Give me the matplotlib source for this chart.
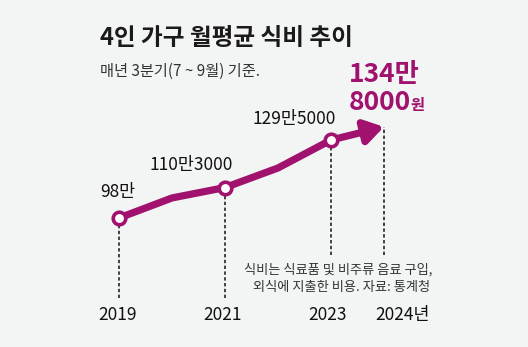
import numpy as np
import matplotlib.pyplot as plt

plt.rcParams['font.family'] = ['Noto Sans CJK KR', 'DejaVu Sans']

# 4인 가구 월평균 식비 (단위: 만원), 매년 3분기
years = [2019, 2020, 2021, 2022, 2023, 2024]
spend = [98.0, 106.1, 110.3, 118.2, 129.5, 134.8]
marked_years = [2019, 2021, 2023]
marked_spend = [98.0, 110.3, 129.5]
year_labels = ['2019', '2021', '2023', '2024년']
value_labels = ['98만', '110만3000', '129만5000']

W, H = 528, 347
BG = '#f3f4f4'
MAG = '#a0126e'

fig = plt.figure(figsize=(W / 100, H / 100), dpi=100, facecolor=BG)
ax = fig.add_axes([0, 0, 1, 1])
ax.set_facecolor(BG)
# x: 53px per year, 2019 at px 119 ; y: ~2.476px per 만원, 98만 at px 218 from top
ax.set_xlim(2019 - 119 / 53, 2019 + (W - 119) / 53)
ax.set_ylim(98 - (H - 218) / 2.476, 98 + 218 / 2.476)
ax.axis('off')


def px(x, y):
    return x / W, 1 - y / H


# 점선 (연도 기준선)
ends = {2019: 65.7, 2021: 65.7, 2023: 83.1, 2024: 83.1}
for yr, v in zip(years, spend):
    if yr in ends:
        ax.plot([yr, yr], [ends[yr], v], color='#111111', lw=1.1,
                ls=(0, (2.2, 1.6)), zorder=1)

# 추이 선 + 화살표
ax.plot(years[:-1], spend[:-1], color=MAG, lw=5.2, solid_capstyle='butt',
        solid_joinstyle='miter', zorder=2)
ax.annotate('', xy=(years[-1], spend[-1]), xytext=(years[-2], spend[-2]),
            arrowprops=dict(arrowstyle='-|>,head_length=1.1,head_width=0.7',
                            color=MAG, lw=5.2, shrinkA=0, shrinkB=0),
            zorder=2)
ax.plot(marked_years, marked_spend, 'o', ms=9, mfc='white', mec=MAG,
        mew=2.6, zorder=3)

# 제목
fig.text(*px(100, 38), '4인 가구 월평균 식비 추이', fontsize=17,
         fontweight='bold', color='#1a1a1a', va='center', ha='left')
fig.text(*px(100, 71), '매년 3분기(7 ~ 9월) 기준.', fontsize=11,
         color='#333333', va='center', ha='left')

# 값 라벨
for (x, y), s in zip([(118, 192), (191, 165), (294, 119)], value_labels):
    fig.text(*px(x, y), s, fontsize=12.5, color='#111111',
             va='center', ha='center')
fig.text(*px(349, 75), '134만', fontsize=19, fontweight='bold', color=MAG,
         va='center', ha='left')
fig.text(*px(349, 102.5), '8000', fontsize=19, fontweight='bold', color=MAG,
         va='center', ha='left')
fig.text(*px(410, 105), '원', fontsize=11, fontweight='bold', color=MAG,
         va='center', ha='left')

# 연도 라벨
for (x, ha), s in zip([(118, 'center'), (223, 'center'), (328, 'center'),
                       (375, 'left')], year_labels):
    fig.text(*px(x, 315), s, fontsize=12.5, color='#111111',
             va='center', ha=ha)

# 주석
fig.text(*px(432, 270), '식비는 식료품 및 비주류 음료 구입,', fontsize=9.5,
         color='#333333', va='center', ha='right')
fig.text(*px(430, 287), '외식에 지출한 비용. 자료: 통계청', fontsize=9.5,
         color='#333333', va='center', ha='right')

fig.savefig('out.png', dpi=100, facecolor=BG)
